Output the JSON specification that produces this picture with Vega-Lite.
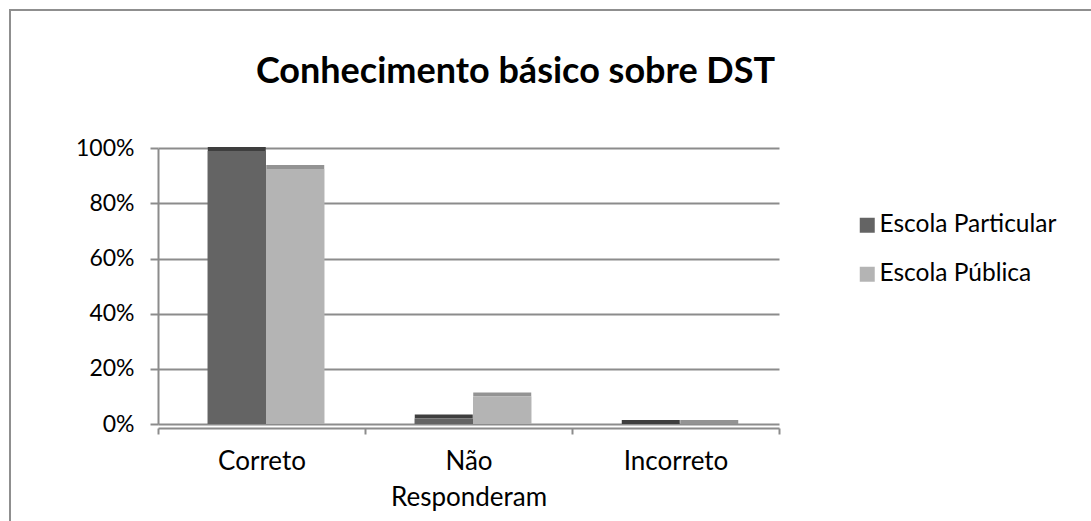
{
  "$schema": "https://vega.github.io/schema/vega-lite/v6.json",
  "width": 1091,
  "height": 521,
  "autosize": {"type": "none"},
  "padding": {"left": 10, "top": 10, "right": -10, "bottom": -10},
  "background": "white",
  "config": {
    "font": "Lato",
    "view": {"stroke": "#8f8f8f", "strokeWidth": 2}
  },
  "title": {
    "text": "Conhecimento básico sobre DST",
    "font": "Lato",
    "fontSize": 36,
    "fontWeight": "bold",
    "color": "#000000",
    "anchor": "middle",
    "frame": "group",
    "offset": -81,
    "dx": -40
  },
  "data": {
    "values": [
      {"resposta": "Correto", "escola": "Escola Particular", "valor": 0.99},
      {"resposta": "Correto", "escola": "Escola Pública", "valor": 0.925},
      {"resposta": "Não Responderam", "escola": "Escola Particular", "valor": 0.02},
      {"resposta": "Não Responderam", "escola": "Escola Pública", "valor": 0.1},
      {"resposta": "Incorreto", "escola": "Escola Particular", "valor": 0},
      {"resposta": "Incorreto", "escola": "Escola Pública", "valor": 0}
    ]
  },
  "encoding": {
    "x": {
      "field": "resposta",
      "type": "nominal",
      "sort": ["Correto", "Não Responderam", "Incorreto"],
      "scale": {"range": [148, 769], "paddingInner": 0, "paddingOuter": 0},
      "axis": {
        "title": null,
        "orient": "bottom",
        "offset": -103,
        "tickBand": "extent",
        "tickSize": 6,
        "tickColor": "#8c8c8c",
        "tickWidth": 2,
        "domainColor": "#8c8c8c",
        "domainWidth": 2,
        "grid": false,
        "labelAngle": 0,
        "labelFont": "Lato",
        "labelFontSize": 26,
        "labelColor": "#000000",
        "labelPadding": 14,
        "labelLineHeight": 36,
        "labelExpr": "split(datum.label, ' ')"
      }
    },
    "xOffset": {
      "field": "escola",
      "type": "nominal",
      "sort": ["Escola Particular", "Escola Pública"],
      "scale": {"paddingInner": 0, "paddingOuter": 0.77, "align": 0.55}
    },
    "y": {
      "field": "valor",
      "type": "quantitative",
      "stack": null,
      "scale": {"domain": [0, 1], "range": [414, 138.3], "nice": false, "zero": false},
      "axis": {
        "title": null,
        "values": [0, 0.2, 0.4, 0.6, 0.8, 1],
        "format": ".0%",
        "offset": -148,
        "domainColor": "#8c8c8c",
        "domainWidth": 2,
        "tickColor": "#8c8c8c",
        "tickWidth": 2,
        "tickSize": 8,
        "labelFont": "Lato",
        "labelFontSize": 23,
        "labelColor": "#000000",
        "labelPadding": 16,
        "grid": true,
        "gridColor": "#8c8c8c",
        "gridWidth": 2
      }
    }
  },
  "layer": [
    {
      "mark": {"type": "tick", "size": 58, "thickness": 4, "yOffset": -2, "opacity": 1},
      "encoding": {
        "color": {
          "field": "escola",
          "type": "nominal",
          "scale": {"domain": ["Escola Particular", "Escola Pública"], "range": ["#3e3e3e", "#939393"]},
          "legend": null
        }
      }
    },
    {
      "mark": {"type": "bar", "opacity": 1},
      "encoding": {
        "color": {
          "field": "escola",
          "type": "nominal",
          "scale": {"domain": ["Escola Particular", "Escola Pública"], "range": ["#646464", "#b4b4b4"]},
          "legend": {
            "title": null,
            "orient": "none",
            "legendX": 845,
            "legendY": 203,
            "symbolType": "square",
            "symbolSize": 225,
            "symbolStrokeWidth": 0,
            "symbolOpacity": 1,
            "labelFont": "Lato",
            "labelFontSize": 24.5,
            "labelColor": "#000000",
            "labelOffset": 0,
            "labelLimit": 400,
            "rowPadding": 24
          }
        }
      }
    }
  ],
  "resolve": {"scale": {"color": "independent"}, "legend": {"color": "independent"}}
}
